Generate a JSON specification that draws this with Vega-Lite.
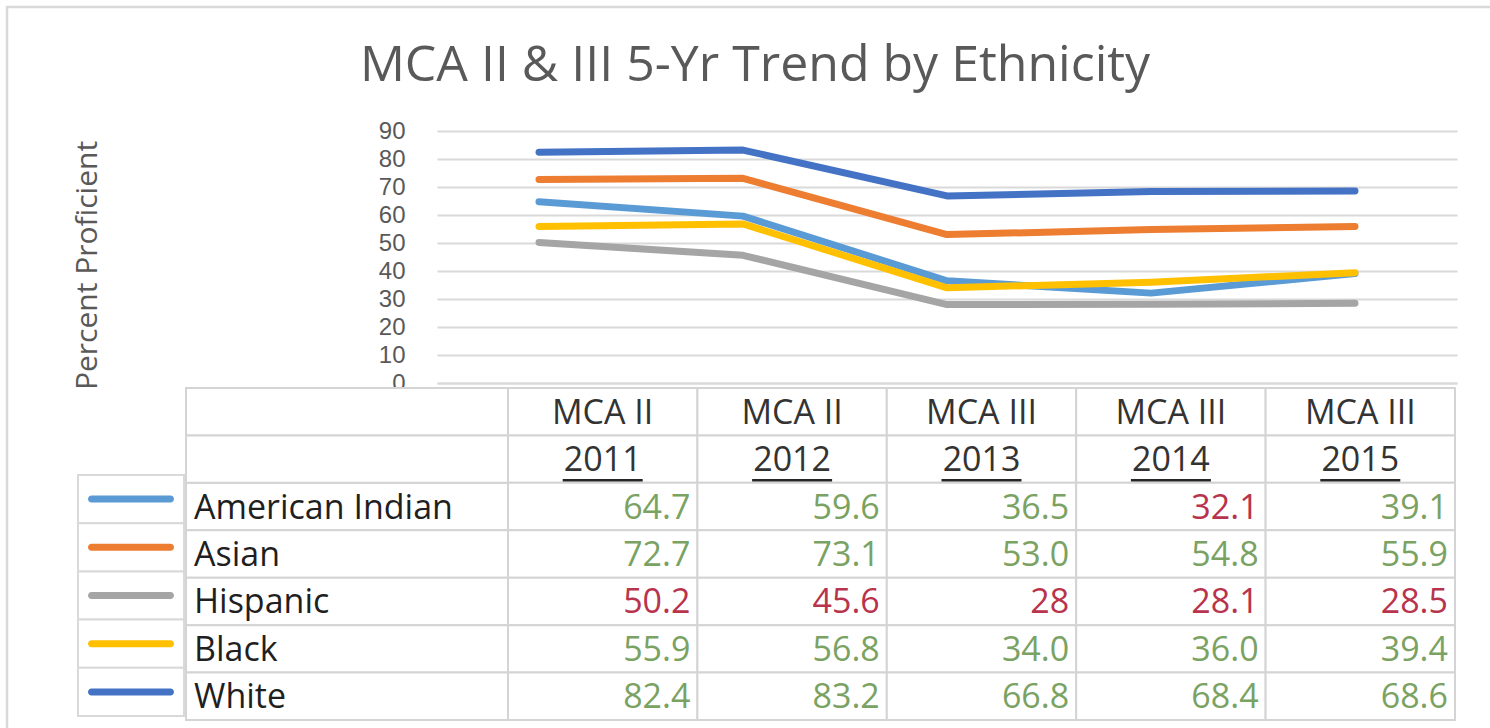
{
  "$schema": "https://vega.github.io/schema/vega-lite/v6.json",
  "autosize": {"type": "none"},
  "width": 1020,
  "height": 252,
  "padding": {"left": 437, "top": 131, "right": 33, "bottom": 345},
  "background": "white",
  "config": {"view": {"stroke": null}, "font": "Open Sans"},
  "title": {
    "text": "MCA II & III 5-Yr Trend by Ethnicity",
    "font": "Open Sans",
    "fontSize": 50,
    "fontWeight": "normal",
    "color": "#595959",
    "anchor": "middle",
    "frame": "group",
    "dx": -192,
    "offset": -85
  },
  "data": {
    "values": [
      {"group": "American Indian", "exam": "MCA II", "year": "2011", "value": 64.7, "label": "64.7", "target": "Met"},
      {"group": "American Indian", "exam": "MCA II", "year": "2012", "value": 59.6, "label": "59.6", "target": "Met"},
      {"group": "American Indian", "exam": "MCA III", "year": "2013", "value": 36.5, "label": "36.5", "target": "Met"},
      {"group": "American Indian", "exam": "MCA III", "year": "2014", "value": 32.1, "label": "32.1", "target": "Not met"},
      {"group": "American Indian", "exam": "MCA III", "year": "2015", "value": 39.1, "label": "39.1", "target": "Met"},
      {"group": "Asian", "exam": "MCA II", "year": "2011", "value": 72.7, "label": "72.7", "target": "Met"},
      {"group": "Asian", "exam": "MCA II", "year": "2012", "value": 73.1, "label": "73.1", "target": "Met"},
      {"group": "Asian", "exam": "MCA III", "year": "2013", "value": 53.0, "label": "53.0", "target": "Met"},
      {"group": "Asian", "exam": "MCA III", "year": "2014", "value": 54.8, "label": "54.8", "target": "Met"},
      {"group": "Asian", "exam": "MCA III", "year": "2015", "value": 55.9, "label": "55.9", "target": "Met"},
      {"group": "Hispanic", "exam": "MCA II", "year": "2011", "value": 50.2, "label": "50.2", "target": "Not met"},
      {"group": "Hispanic", "exam": "MCA II", "year": "2012", "value": 45.6, "label": "45.6", "target": "Not met"},
      {"group": "Hispanic", "exam": "MCA III", "year": "2013", "value": 28, "label": "28", "target": "Not met"},
      {"group": "Hispanic", "exam": "MCA III", "year": "2014", "value": 28.1, "label": "28.1", "target": "Not met"},
      {"group": "Hispanic", "exam": "MCA III", "year": "2015", "value": 28.5, "label": "28.5", "target": "Not met"},
      {"group": "Black", "exam": "MCA II", "year": "2011", "value": 55.9, "label": "55.9", "target": "Met"},
      {"group": "Black", "exam": "MCA II", "year": "2012", "value": 56.8, "label": "56.8", "target": "Met"},
      {"group": "Black", "exam": "MCA III", "year": "2013", "value": 34.0, "label": "34.0", "target": "Met"},
      {"group": "Black", "exam": "MCA III", "year": "2014", "value": 36.0, "label": "36.0", "target": "Met"},
      {"group": "Black", "exam": "MCA III", "year": "2015", "value": 39.4, "label": "39.4", "target": "Met"},
      {"group": "White", "exam": "MCA II", "year": "2011", "value": 82.4, "label": "82.4", "target": "Met"},
      {"group": "White", "exam": "MCA II", "year": "2012", "value": 83.2, "label": "83.2", "target": "Met"},
      {"group": "White", "exam": "MCA III", "year": "2013", "value": 66.8, "label": "66.8", "target": "Met"},
      {"group": "White", "exam": "MCA III", "year": "2014", "value": 68.4, "label": "68.4", "target": "Met"},
      {"group": "White", "exam": "MCA III", "year": "2015", "value": 68.6, "label": "68.6", "target": "Met"}
    ]
  },
  "resolve": {
    "scale": {"x": "independent", "y": "independent", "color": "independent"},
    "axis": {"x": "independent", "y": "independent"}
  },
  "layer": [
    {
      "transform": [{"filter": "datum.year == '2011' && datum.group == 'White'"}],
      "mark": {"type": "rect", "fill": null, "stroke": "#d9d9d9", "strokeWidth": 2.5},
      "encoding": {
        "x": {"datum": "frame", "type": "nominal", "scale": {"type": "band", "domain": ["frame"], "range": [-430, 1100], "paddingInner": 0, "paddingOuter": 0}, "axis": null},
        "y": {"datum": "frame", "type": "nominal", "scale": {"type": "band", "domain": ["frame"], "range": [-124, 660], "paddingInner": 0, "paddingOuter": 0}, "axis": null}
      }
    },
    {
      "mark": {"type": "line", "strokeWidth": 7, "strokeCap": "round", "strokeJoin": "round"},
      "encoding": {
        "x": {
          "field": "year", "type": "ordinal",
          "scale": {"type": "point", "domain": ["2011", "2012", "2013", "2014", "2015"], "range": [0, 1020], "padding": 0.5},
          "axis": {"title": null, "labels": false, "ticks": false, "grid": false, "domain": true, "domainColor": "#d9d9d9", "domainWidth": 2}
        },
        "y": {
          "field": "value", "type": "quantitative",
          "scale": {"domain": [0, 90], "range": [252, 0], "nice": false},
          "axis": {
            "values": [0, 10, 20, 30, 40, 50, 60, 70, 80, 90],
            "grid": true, "gridColor": "#d9d9d9", "gridWidth": 2,
            "domain": false, "ticks": false,
            "labelFont": "Liberation Sans", "labelFontSize": 24, "labelColor": "#595959", "labelPadding": 32,
            "title": "Percent Proficient", "titleFont": "Open Sans", "titleFontSize": 30,
            "titleFontWeight": "normal", "titleColor": "#595959", "titlePadding": 276, "titleY": 134
          }
        },
        "color": {
          "field": "group", "type": "nominal",
          "scale": {"domain": ["American Indian", "Asian", "Hispanic", "Black", "White"], "range": ["#5B9BD5", "#ED7D31", "#A5A5A5", "#FFC000", "#4472C4"]},
          "legend": null
        }
      }
    },
    {
      "transform": [{"filter": "datum.year == '2011'"}],
      "mark": {"type": "rect", "fill": "white", "stroke": "#d9d9d9", "strokeWidth": 2},
      "encoding": {
        "x": {"datum": "key", "type": "nominal", "scale": {"type": "band", "domain": ["key"], "range": [-359, -253], "paddingInner": 0, "paddingOuter": 0}, "axis": null},
        "y": {"field": "group", "type": "nominal", "scale": {"type": "band", "domain": ["American Indian", "Asian", "Hispanic", "Black", "White"], "range": [344, 585], "paddingInner": 0, "paddingOuter": 0}, "axis": null}
      }
    },
    {
      "transform": [{"filter": "datum.year == '2011'"}],
      "mark": {"type": "tick", "orient": "horizontal", "size": 86, "thickness": 7, "cornerRadius": 3.5, "opacity": 1},
      "encoding": {
        "x": {"datum": "key", "type": "nominal", "scale": {"type": "band", "domain": ["key"], "range": [-359, -253], "paddingInner": 0, "paddingOuter": 0}, "axis": null},
        "y": {"field": "group", "type": "nominal", "scale": {"type": "band", "domain": ["American Indian", "Asian", "Hispanic", "Black", "White"], "range": [344, 585], "paddingInner": 0, "paddingOuter": 0}, "axis": null},
        "color": {
          "field": "group", "type": "nominal",
          "scale": {"domain": ["American Indian", "Asian", "Hispanic", "Black", "White"], "range": ["#5B9BD5", "#ED7D31", "#A5A5A5", "#FFC000", "#4472C4"]},
          "legend": null
        }
      }
    },
    {
      "transform": [{"filter": "datum.year == '2011'"}],
      "mark": {"type": "rect", "fill": "white", "stroke": "#d4d4d4", "strokeWidth": 2},
      "encoding": {
        "x": {"datum": "label", "type": "nominal", "scale": {"type": "band", "domain": ["label"], "range": [-251, 71], "paddingInner": 0, "paddingOuter": 0}, "axis": null},
        "y": {"field": "group", "type": "nominal", "scale": {"type": "band", "domain": ["exam", "year", "American Indian", "Asian", "Hispanic", "Black", "White"], "range": [257, 589], "paddingInner": 0, "paddingOuter": 0}, "axis": null}
      }
    },
    {
      "transform": [
        {"filter": "datum.year == '2011' && datum.group == 'American Indian'"},
        {"fold": ["exam", "year"], "as": ["row", "text"]}
      ],
      "mark": {"type": "rect", "fill": "white", "stroke": "#d4d4d4", "strokeWidth": 2},
      "encoding": {
        "x": {"datum": "label", "type": "nominal", "scale": {"type": "band", "domain": ["label"], "range": [-251, 71], "paddingInner": 0, "paddingOuter": 0}, "axis": null},
        "y": {"field": "row", "type": "nominal", "scale": {"type": "band", "domain": ["exam", "year", "American Indian", "Asian", "Hispanic", "Black", "White"], "range": [257, 589], "paddingInner": 0, "paddingOuter": 0}, "axis": null}
      }
    },
    {
      "transform": [
        {"filter": "datum.group == 'American Indian'"},
        {"fold": ["exam", "year"], "as": ["row", "text"]}
      ],
      "mark": {"type": "rect", "fill": "white", "stroke": "#d4d4d4", "strokeWidth": 2},
      "encoding": {
        "x": {"field": "year", "type": "ordinal", "scale": {"type": "band", "domain": ["2011", "2012", "2013", "2014", "2015"], "range": [71, 1018], "paddingInner": 0, "paddingOuter": 0}, "axis": null},
        "y": {"field": "row", "type": "nominal", "scale": {"type": "band", "domain": ["exam", "year", "American Indian", "Asian", "Hispanic", "Black", "White"], "range": [257, 589], "paddingInner": 0, "paddingOuter": 0}, "axis": null}
      }
    },
    {
      "mark": {"type": "rect", "fill": "white", "stroke": "#d4d4d4", "strokeWidth": 2},
      "encoding": {
        "x": {"field": "year", "type": "ordinal", "scale": {"type": "band", "domain": ["2011", "2012", "2013", "2014", "2015"], "range": [71, 1018], "paddingInner": 0, "paddingOuter": 0}, "axis": null},
        "y": {"field": "group", "type": "nominal", "scale": {"type": "band", "domain": ["exam", "year", "American Indian", "Asian", "Hispanic", "Black", "White"], "range": [257, 589], "paddingInner": 0, "paddingOuter": 0}, "axis": null}
      }
    },
    {
      "transform": [
        {"filter": "datum.group == 'American Indian'"},
        {"fold": ["exam", "year"], "as": ["row", "text"]}
      ],
      "mark": {"type": "text", "align": "center", "baseline": "middle", "dy": 2, "fontSize": 34, "color": "#333333"},
      "encoding": {
        "x": {"field": "year", "type": "ordinal", "scale": {"type": "band", "domain": ["2011", "2012", "2013", "2014", "2015"], "range": [71, 1018], "paddingInner": 0, "paddingOuter": 0}, "axis": null},
        "y": {"field": "row", "type": "nominal", "scale": {"type": "band", "domain": ["exam", "year", "American Indian", "Asian", "Hispanic", "Black", "White"], "range": [257, 589], "paddingInner": 0, "paddingOuter": 0}, "axis": null},
        "text": {"field": "text"}
      }
    },
    {
      "transform": [
        {"filter": "datum.group == 'American Indian'"},
        {"fold": ["exam", "year"], "as": ["row", "text"]},
        {"filter": "datum.row == 'year'"}
      ],
      "mark": {"type": "rule", "xOffset": -40, "x2Offset": 40, "yOffset": 21, "strokeWidth": 2.5, "color": "#262626"},
      "encoding": {
        "x": {"field": "year", "type": "ordinal", "scale": {"type": "band", "domain": ["2011", "2012", "2013", "2014", "2015"], "range": [71, 1018], "paddingInner": 0, "paddingOuter": 0}, "axis": null},
        "x2": {"field": "year"},
        "y": {"field": "row", "type": "nominal", "scale": {"type": "band", "domain": ["exam", "year", "American Indian", "Asian", "Hispanic", "Black", "White"], "range": [257, 589], "paddingInner": 0, "paddingOuter": 0}, "axis": null}
      }
    },
    {
      "transform": [{"filter": "datum.year == '2011'"}],
      "mark": {"type": "text", "align": "left", "baseline": "middle", "dx": 8, "dy": 2, "fontSize": 34, "color": "#1f1f1f"},
      "encoding": {
        "x": {"datum": "label", "type": "nominal", "bandPosition": 0, "scale": {"type": "band", "domain": ["label"], "range": [-251, 71], "paddingInner": 0, "paddingOuter": 0}, "axis": null},
        "y": {"field": "group", "type": "nominal", "scale": {"type": "band", "domain": ["exam", "year", "American Indian", "Asian", "Hispanic", "Black", "White"], "range": [257, 589], "paddingInner": 0, "paddingOuter": 0}, "axis": null},
        "text": {"field": "group"}
      }
    },
    {
      "mark": {"type": "text", "align": "right", "baseline": "middle", "dx": -7, "dy": 2, "fontSize": 34},
      "encoding": {
        "x": {"field": "year", "type": "ordinal", "bandPosition": 1, "scale": {"type": "band", "domain": ["2011", "2012", "2013", "2014", "2015"], "range": [71, 1018], "paddingInner": 0, "paddingOuter": 0}, "axis": null},
        "y": {"field": "group", "type": "nominal", "scale": {"type": "band", "domain": ["exam", "year", "American Indian", "Asian", "Hispanic", "Black", "White"], "range": [257, 589], "paddingInner": 0, "paddingOuter": 0}, "axis": null},
        "text": {"field": "label"},
        "color": {"field": "target", "type": "nominal", "scale": {"domain": ["Met", "Not met"], "range": ["#7aa262", "#b8344c"]}, "legend": null}
      }
    }
  ]
}
